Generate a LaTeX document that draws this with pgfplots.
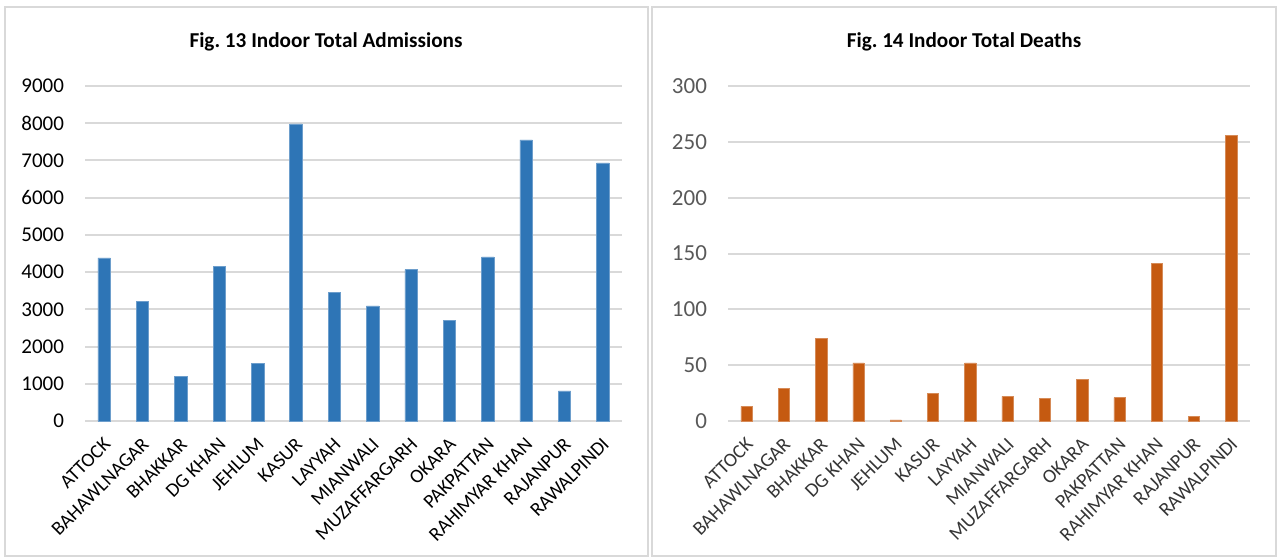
\documentclass[border=0pt]{standalone}
\usepackage{fontspec}
\setmainfont{Carlito}
\usepackage{pgfplots}
\pgfplotsset{compat=1.18}
\definecolor{xlblue}{HTML}{2E75B6}
\definecolor{xlorange}{HTML}{C55A11}
\definecolor{xlgrid}{HTML}{D9D9D9}
\definecolor{xltext}{HTML}{595959}

\pgfplotsset{
  panel/.style={
    scale only axis,
    anchor=south west,
    height=167.5pt,
    ybar, ymin=0,
    xmin=-0.5, xmax=13.5,
    xtick={0,...,13},
    xticklabels={ATTOCK,BAHAWLNAGAR,BHAKKAR,DG KHAN,JEHLUM,KASUR,LAYYAH,MIANWALI,MUZAFFARGARH,OKARA,PAKPATTAN,RAHIMYAR KHAN,RAJANPUR,RAWALPINDI},
    xticklabel style={rotate=45, anchor=north east, font=\fontsize{9.8}{10}\selectfont, inner sep=1pt, xshift=-4.9pt, yshift=-3.8pt},
    major tick length=0pt,
    axis x line*=bottom, axis y line*=left,
    x axis line style={xlgrid, line width=1pt, -},
    y axis line style={draw=none},
    ymajorgrids, grid style={xlgrid, line width=1pt},
    yticklabel style={/pgf/number format/assume math mode=true, /pgf/number format/1000 sep={}, xshift=-7pt},
    ytick style={draw=none},
    scaled y ticks=false,
    clip=false,
  },
}

\begin{document}
\frenchspacing
\begin{tikzpicture}
  \path[use as bounding box] (0pt,0pt) rectangle (640pt,279.5pt);
  \draw[xlgrid, line width=0.8pt] (2.5pt,1.5pt) rectangle (324pt,276pt);
  \draw[xlgrid, line width=0.8pt] (326pt,1.5pt) rectangle (638pt,276pt);

  \node[font=\bfseries\fontsize{10.6}{12}\selectfont] at (163pt,258.5pt) {Fig. 13 Indoor Total Admissions};
  \node[font=\bfseries\fontsize{10.6}{12}\selectfont] at (482pt,258.5pt) {Fig. 14 Indoor Total Deaths};

  \begin{axis}[panel,
    at={(42.5pt,69pt)}, width=268.5pt,
    ymax=9000, ytick={0,1000,...,9000},
    yticklabel style={font=\fontsize{10.5}{12}\selectfont, text=black},
    bar width=6.2pt,
  ]
    \addplot[fill=xlblue, draw=xlblue!70!white, line width=0.3pt] coordinates {
      (0,4380) (1,3210) (2,1200) (3,4150) (4,1555) (5,7980) (6,3450)
      (7,3090) (8,4070) (9,2700) (10,4410) (11,7555) (12,810) (13,6935)
    };
  \end{axis}

  \begin{axis}[panel,
    at={(364pt,69pt)}, width=261pt,
    ymax=300, ytick={0,50,...,300},
    yticklabel style={font=\fontsize{11.5}{13}\selectfont, text=xltext},
    xticklabel style={text=xltext!60!black},
    bar width=5.7pt,
  ]
    \addplot[fill=xlorange, draw=xlorange!70!white, line width=0.3pt] coordinates {
      (0,13) (1,29) (2,74) (3,52) (4,1) (5,25) (6,52)
      (7,22) (8,20) (9,37) (10,21) (11,141) (12,4) (13,256)
    };
  \end{axis}
\end{tikzpicture}
\end{document}
